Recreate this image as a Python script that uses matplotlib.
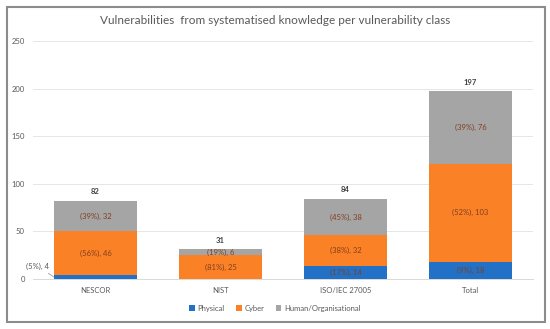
import matplotlib.pyplot as plt
import matplotlib.patches as mpatches
import numpy as np

categories = ['NESCOR', 'NIST', 'ISO/IEC 27005', 'Total']
physical = [4, 0, 14, 18]
cyber = [46, 25, 32, 103]
human = [32, 6, 38, 76]
series_names = ['Physical', 'Cyber', 'Human/Organisational']
yticks = [0, 50, 100, 150, 200, 250]

colors = ['#2271C6', '#FB8127', '#A5A5A5']
label_color = '#7F3F1F'

plt.rcParams['font.family'] = ['Lato', 'DejaVu Sans']

fig = plt.figure(figsize=(5.5, 3.29), dpi=100)
ax = fig.add_axes([33/550, 1-279/329, 500/550, 238/329])

# chart border like the office export
border = mpatches.Rectangle((7/550, 1-322/329), 538/550, 315/329, transform=fig.transFigure,
                            fill=False, edgecolor='#8C8C8C', linewidth=1.5)
fig.patches.append(border)

x = np.arange(len(categories))
data = np.array([physical, cyber, human])
totals = data.sum(axis=0)
w = 0.664

bottom = np.zeros(len(categories))
for k, (vals, col) in enumerate(zip(data, colors)):
    ax.bar(x, vals, w, bottom=bottom, color=col, zorder=2, label=series_names[k])
    for i, v in enumerate(vals):
        if v == 0:
            continue
        pct = int(round(v / totals[i] * 100))
        txt = f'({pct}%), {v}'
        if v < 5:
            # tiny segment, label outside with leader line
            ax.annotate(txt, xy=(x[i] - w/2, bottom[i] + v/2), xytext=(-0.37, 13.5),
                        textcoords='data', ha='right', va='center', fontsize=5.5,
                        color='#595959',
                        arrowprops=dict(arrowstyle='-', color='#A0A0A0', lw=0.6,
                                        shrinkA=1, shrinkB=0))
        else:
            ax.text(x[i], bottom[i] + v/2, txt, ha='center', va='center', fontsize=5.5,
                    color=label_color, zorder=3)
    bottom += vals

for i, t in enumerate(totals):
    ax.text(x[i], t + 6, str(t), ha='center', va='bottom', fontsize=5.5,
            fontweight='bold', color='#404040')

ax.set_xlim(-0.5, len(categories) - 0.5)
ax.set_ylim(0, 250)
ax.set_yticks(yticks)
ax.set_xticks(x)
ax.set_xticklabels(categories)
ax.tick_params(axis='both', length=0, labelsize=5.5, colors='#595959')
ax.tick_params(axis='x', pad=6)
ax.tick_params(axis='y', pad=6)
ax.grid(axis='y', color='#E6E6E6', linewidth=0.7, zorder=0)
for s in ['top', 'right', 'left']:
    ax.spines[s].set_visible(False)
ax.spines['bottom'].set_color('#D9D9D9')
ax.spines['bottom'].set_linewidth(0.7)

fig.suptitle('Vulnerabilities  from systematised knowledge per vulnerability class',
             x=0.5, y=1-21/329, va='center', fontsize=8.5, color='#595959')

fig.legend(loc='center', bbox_to_anchor=(0.5, 1-308/329), ncol=3, frameon=False,
           fontsize=5.5, handlelength=0.7, handleheight=0.7, columnspacing=1.5,
           handletextpad=0.4, labelcolor='#595959')

fig.savefig('out.png', dpi=100)
